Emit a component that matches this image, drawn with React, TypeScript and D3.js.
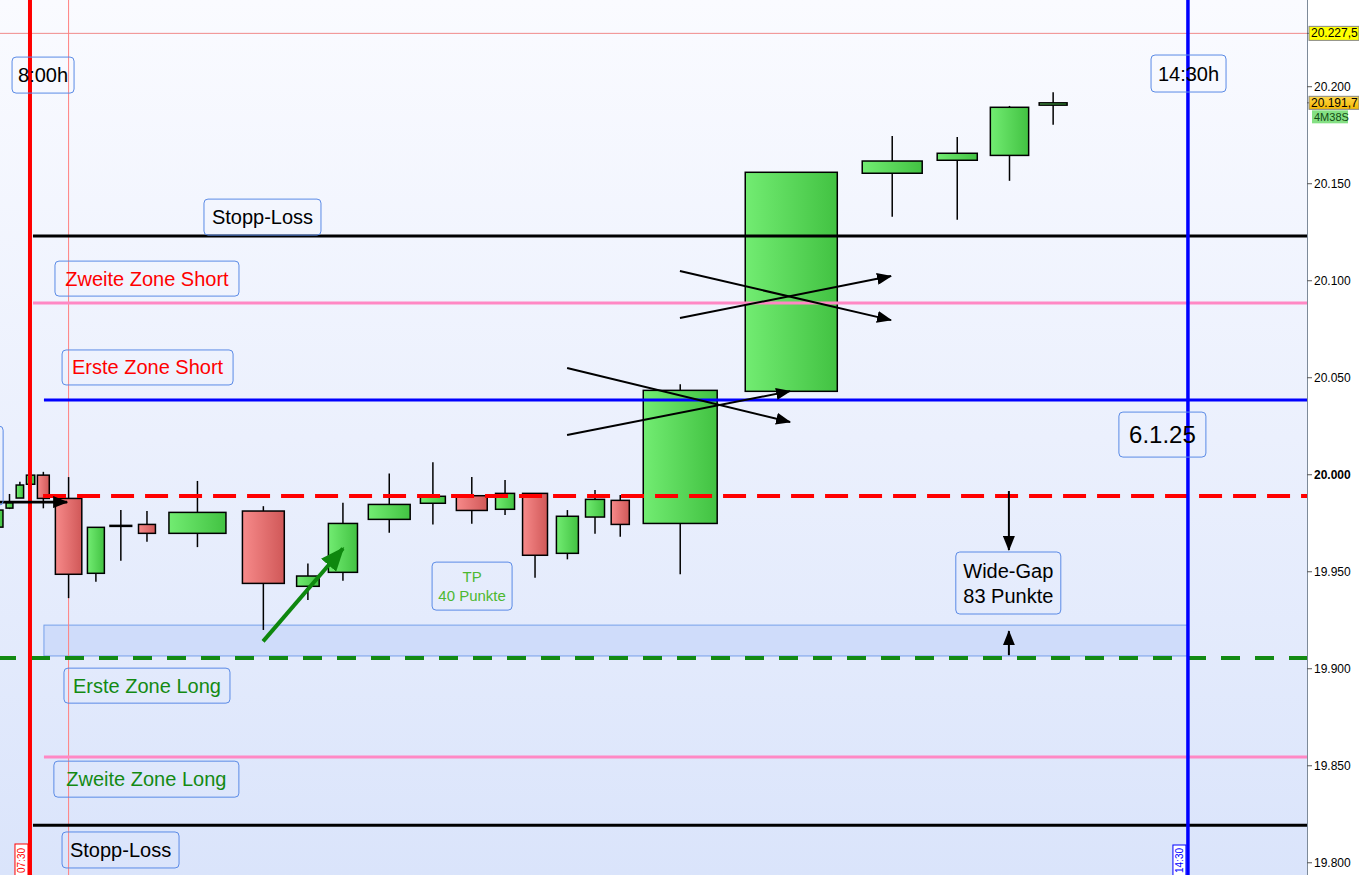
import React from 'react';
import * as d3 from 'd3';

// ---------- DATA ----------
// candle centre time (minutes since midnight) and width (equivolume, minutes)
const candleTime = [468.9, 473.1, 476.6, 480.2, 484.5, 493.0, 502.2, 510.6, 519.4, 536.4, 558.6, 573.6, 585.4, 601.0, 615.7, 628.8, 640.0, 650.1, 661.0, 670.3, 678.8, 699.0, 736.4, 770.4, 792.3, 809.9, 824.6];
const candleVolume = [4.0, 2.3, 2.5, 2.8, 4.0, 8.9, 5.7, 7.3, 5.7, 19.2, 14.1, 7.6, 9.8, 14.1, 8.4, 10.4, 6.4, 8.4, 7.4, 6.4, 6.1, 24.9, 31.0, 20.2, 13.5, 12.9, 9.4];
const candleOpen = [19973.0, 19982.8, 19988.0, 19995.1, 19999.8, 19987.8, 19949.2, 19973.5, 19974.4, 19969.8, 19981.3, 19942.5, 19949.7, 19977.0, 19985.3, 19989.2, 19982.2, 19990.4, 19959.5, 19978.2, 19986.8, 19974.9, 20043.0, 20155.4, 20162.1, 20164.6, 20190.5];
const candleHigh = [19982.0, 19990.1, 19996.4, 20000.0, 20001.5, 19998.8, 19973.0, 19981.8, 19981.3, 19996.8, 19983.8, 19954.3, 19985.6, 20000.7, 20006.5, 19998.8, 19997.3, 19990.6, 19981.8, 19992.1, 19989.5, 20046.6, 20155.9, 20174.6, 20174.1, 20190.1, 20197.1];
const candleLow = [19973.0, 19982.3, 19988.0, 19995.0, 19982.7, 19936.4, 19944.8, 19955.7, 19965.5, 19962.7, 19920.0, 19935.4, 19945.4, 19970.1, 19974.4, 19974.7, 19979.2, 19946.9, 19956.4, 19969.6, 19968.0, 19948.7, 20043.0, 20133.0, 20131.4, 20151.5, 20180.4];
const candleClose = [19981.8, 19985.6, 19994.7, 19999.8, 19987.8, 19948.7, 19972.9, 19973.9, 19969.8, 19980.6, 19944.0, 19947.8, 19974.9, 19984.7, 19988.9, 19981.6, 19990.4, 19958.5, 19978.6, 19987.3, 19974.4, 20043.5, 20155.9, 20161.7, 20165.7, 20189.4, 20191.7];

const axisTicks = [19800, 19850, 19900, 19950, 20000, 20050, 20100, 20150, 20200];

// horizontal levels: price, start time, colour
const levelPrice = [20123.0, 20088.5, 20038.5, 19989.0, 19905.5, 19854.5, 19819.4];
const levelStart = [481, 481, 484.7, 484.4, 469.9, 484.7, 481];
const levelColor = ['#000000', '#ff88c4', '#0000ff', '#ff0000', '#138a13', '#ff88c4', '#000000'];

const gapZone = { top: 19922.5, bottom: 19906.6, start: 484.7, end: 870 };

const sessionStart = 480; // red vertical line
const sessionEnd = 870; // blue vertical line
const sessionStartTag = '07:30';
const sessionEndTag = '14:30';
const crossPrice = 20227.5;
const crossTime = 493.0;
const lastPrice = 20191.7;
const countdown = '4M38S';

// annotations (time, price)
const blackArrows = [
  [660.9, 20020.5, 736.0, 20043.1],
  [660.9, 20055.0, 736.0, 20027.2],
  [698.9, 20080.8, 770.0, 20102.4],
  [698.9, 20105.0, 770.0, 20079.7],
  [465.0, 19985.9, 492.5, 19985.9],
  [809.7, 19991.6, 809.7, 19961.2],
  [809.7, 19907.0, 809.7, 19919.4],
];
const greenArrow = [558.5, 19914.1, 585.4, 19962.0];

const labelText = [['8:00h'], ['14:30h'], ['Stopp-Loss'], ['Zweite Zone Short'], ['Erste Zone Short'], ['6.1.25'], ['TP', '40 Punkte'], ['Wide-Gap', '83 Punkte'], ['Erste Zone Long'], ['Zweite Zone Long'], ['Stopp-Loss'], ['']];
const labelTime = [484.4, 870.2, 558.3, 519.4, 519.6, 861.4, 628.9, 809.5, 519.4, 519.2, 510.5, 453.1];
const labelPrice = [20206.0, 20206.8, 20132.8, 20101.1, 20055.3, 20020.7, 19942.6, 19944.2, 19891.3, 19843.1, 19806.6, 20004.7];
const labelColor = ['#000', '#000', '#000', '#ff0000', '#ff0000', '#000', '#4cb830', '#000', '#138a13', '#138a13', '#000', '#000'];
// box style (px)
const labelW = [62, 75, 117, 184, 171, 87, 80, 105, 166, 185, 117, 106];
const labelH = [36, 37, 36, 35, 35, 45, 48, 62, 35, 36, 36, 79];
const labelFont = [20, 20, 20, 20, 20, 24, 15, 20, 20, 20, 20, 20];

const W = 1359;
const H = 875;
const plotRight = 1307;
const FONT = '"Liberation Sans", Arial, sans-serif';

const priceTag = (v: number) => {
  const s = d3.format(',.1f')(v); // 20,227.5
  return s.replace(/,/g, '#').replace('.', ',').replace(/#/g, '.');
};

export default function App() {
  const x = d3.scaleLinear().domain([469.9, 910.1]).range([0, plotRight]);
  const y = d3.scaleLinear().domain([19793.7, 20244.7]).range([H, 0]);
  const fmt = (v: number) => d3.format(',.0f')(v).replace(/,/g, '.');

  const candles = candleTime.map((t, i) => ({
    t, w: candleVolume[i], o: candleOpen[i], h: candleHigh[i], l: candleLow[i], c: candleClose[i],
  }));

  return (
    <svg width={W} height={H} style={{ position: 'absolute', left: 0, top: 0, fontFamily: FONT }}>
      <defs>
        <linearGradient id="bg" x1="0" y1="0" x2="0" y2="1">
          <stop offset="0" stopColor="#fafbff" />
          <stop offset="0.5" stopColor="#ebf0fd" />
          <stop offset="1" stopColor="#dae4fb" />
        </linearGradient>
        <linearGradient id="gUp" x1="0" y1="0" x2="1" y2="0">
          <stop offset="0" stopColor="#72ec72" />
          <stop offset="1" stopColor="#42c242" />
        </linearGradient>
        <linearGradient id="gDn" x1="0" y1="0" x2="1" y2="0">
          <stop offset="0" stopColor="#f78a8a" />
          <stop offset="1" stopColor="#d05858" />
        </linearGradient>
        <linearGradient id="gLast" x1="0" y1="0" x2="0" y2="1">
          <stop offset="0" stopColor="#ffd84a" />
          <stop offset="1" stopColor="#f5b800" />
        </linearGradient>
        <marker id="ahB" markerUnits="userSpaceOnUse" markerWidth="15" markerHeight="12" refX="14" refY="6" orient="auto">
          <path d="M0,0 L15,6 L0,12 Z" fill="#000" />
        </marker>
        <marker id="ahG" markerUnits="userSpaceOnUse" markerWidth="24" markerHeight="20" refX="22" refY="10" orient="auto">
          <path d="M0,0 L24,10 L0,20 Z" fill="#0e870e" />
        </marker>
      </defs>

      {/* background */}
      <rect x={0} y={0} width={plotRight} height={H} fill="url(#bg)" />
      <rect x={plotRight} y={0} width={W - plotRight} height={H} fill="#ffffff" />

      {/* gap zone */}
      <rect x={x(gapZone.start)} y={y(gapZone.top)} width={x(gapZone.end) - x(gapZone.start)}
        height={y(gapZone.bottom) - y(gapZone.top)} fill="#cfdcfa" stroke="#76a0ea" strokeWidth={1} />

      {/* crosshair */}
      <line x1={0} x2={plotRight} y1={y(crossPrice)} y2={y(crossPrice)} stroke="#f08a8a" strokeWidth={1} />
      <line x1={x(crossTime)} x2={x(crossTime)} y1={0} y2={H} stroke="#ff8080" strokeWidth={1} />

      {/* candles */}
      {candles.map((d, i) => {
        const up = d.c >= d.o;
        const x0 = x(d.t - d.w / 2);
        const x1 = x(d.t + d.w / 2);
        const cx = x(d.t);
        const top = y(Math.max(d.o, d.c));
        const bot = y(Math.min(d.o, d.c));
        return (
          <g key={i}>
            <line x1={cx} x2={cx} y1={y(d.h)} y2={y(d.l)} stroke="#000" strokeWidth={1.5} />
            <rect x={x0} y={top} width={x1 - x0} height={Math.max(bot - top, 1)}
              fill={up ? 'url(#gUp)' : 'url(#gDn)'} stroke="#000" strokeWidth={1.5} />
          </g>
        );
      })}

      {/* horizontal levels */}
      {levelPrice.map((p, i) => (
        <line key={i} x1={x(levelStart[i])} x2={plotRight} y1={y(p)} y2={y(p)}
          stroke={levelColor[i]}
          strokeWidth={i === 3 || i === 4 ? 4 : 3}
          strokeDasharray={i === 3 ? '23 11' : i === 4 ? '19 15' : undefined}
          strokeDashoffset={i === 4 ? 3 : 0} />
      ))}

      {/* session vertical lines */}
      <line x1={x(sessionStart)} x2={x(sessionStart)} y1={0} y2={H} stroke="#ff0000" strokeWidth={4} />
      <line x1={x(sessionEnd)} x2={x(sessionEnd)} y1={0} y2={H} stroke="#0000ff" strokeWidth={3.5} />

      {/* arrows */}
      {blackArrows.map((a, i) => (
        <line key={i} x1={x(a[0])} y1={y(a[1])} x2={x(a[2])} y2={y(a[3])} stroke="#000"
          strokeWidth={i === 4 ? 2.7 : 2} markerEnd="url(#ahB)" />
      ))}
      <line x1={x(greenArrow[0])} y1={y(greenArrow[1])} x2={x(greenArrow[2])} y2={y(greenArrow[3])}
        stroke="#0e870e" strokeWidth={4} markerEnd="url(#ahG)" />

      {/* label boxes */}
      {labelText.map((lines, i) => {
        const cx = x(labelTime[i]);
        const cy = y(labelPrice[i]);
        const fs = labelFont[i];
        const lh = fs * 1.25;
        return (
          <g key={i}>
            <rect x={cx - labelW[i] / 2} y={cy - labelH[i] / 2} width={labelW[i]} height={labelH[i]}
              rx={4} fill="none" stroke="#5a8ae6" strokeWidth={1} />
            {lines.map((s, j) => (
              <text key={j} x={cx} y={cy + (j - (lines.length - 1) / 2) * lh}
                textAnchor="middle" dominantBaseline="central" fontSize={fs} fill={labelColor[i]}>{s}</text>
            ))}
          </g>
        );
      })}

      {/* time tags at bottom */}
      <g transform={`translate(${x(sessionStart) - 9}, ${H})`}>
        <rect x={-6} y={-31} width={13} height={40} fill="#ffffff" stroke="#ff0000" strokeWidth={1} />
        <text transform="rotate(-90)" x={2} y={4} fontSize={10} fill="#ff0000">{sessionStartTag}</text>
      </g>
      <g transform={`translate(${x(sessionEnd) - 9}, ${H})`}>
        <rect x={-6} y={-30} width={13} height={40} fill="#ffffff" stroke="#0000ff" strokeWidth={1} />
        <text transform="rotate(-90)" x={2} y={4} fontSize={10} fill="#0000ff">{sessionEndTag}</text>
      </g>

      {/* right axis */}
      <line x1={plotRight + 0.5} x2={plotRight + 0.5} y1={0} y2={H} stroke="#7d8a99" strokeWidth={1} />
      {axisTicks.map((v) => (
        <g key={v}>
          <line x1={plotRight} x2={plotRight + 5} y1={y(v)} y2={y(v)} stroke="#555" strokeWidth={1} />
          <text x={plotRight + 7} y={y(v)} dominantBaseline="central" fontSize={12}
            fontWeight={v === 20000 ? 'bold' : 'normal'} fill="#000">{fmt(v)}</text>
        </g>
      ))}
      {/* price tags */}
      <line x1={plotRight} x2={plotRight + 4} y1={y(crossPrice)} y2={y(crossPrice)} stroke="#555" />
      <rect x={plotRight + 2} y={y(crossPrice) - 7} width={W - plotRight - 2} height={14} fill="#ffff00" stroke="#888" strokeWidth={1} />
      <text x={plotRight + 4} y={y(crossPrice)} dominantBaseline="central" fontSize={12} fill="#000">{priceTag(crossPrice)}</text>
      <line x1={plotRight} x2={plotRight + 4} y1={y(lastPrice)} y2={y(lastPrice)} stroke="#555" />
      <rect x={plotRight + 2} y={y(lastPrice) - 6.5} width={W - plotRight - 2} height={13} fill="url(#gLast)" stroke="#888" strokeWidth={1} />
      <text x={plotRight + 4} y={y(lastPrice)} dominantBaseline="central" fontSize={12} fill="#000">{priceTag(lastPrice)}</text>
      <rect x={plotRight + 5} y={y(lastPrice) + 7.5} width={36} height={13} fill="#84e084" />
      <text x={plotRight + 7} y={y(lastPrice) + 14} dominantBaseline="central" fontSize={11} fill="#134a13">{countdown}</text>
    </svg>
  );
}
